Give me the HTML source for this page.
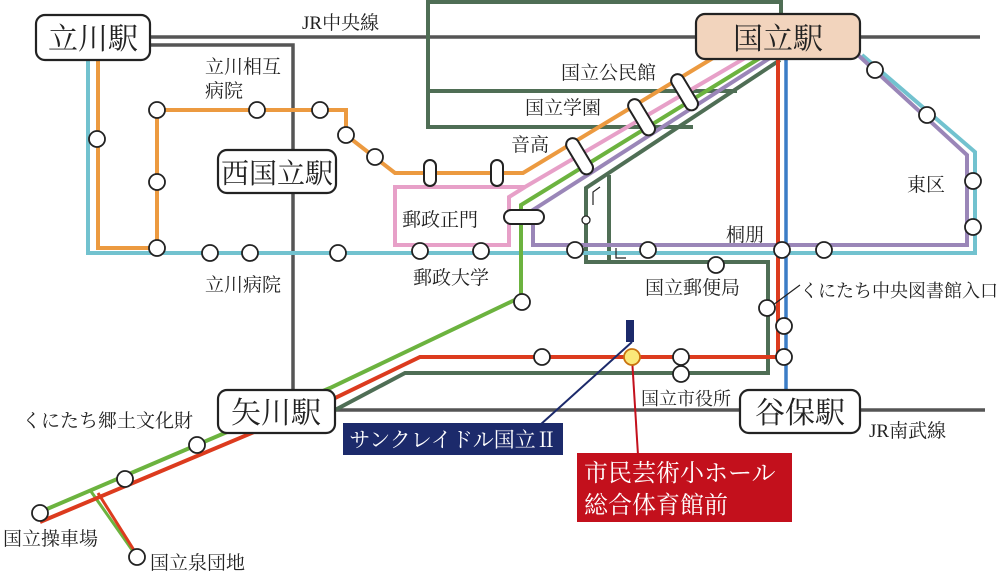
<!DOCTYPE html>
<html><head><meta charset="utf-8"><style>
body{margin:0;background:#fff}
svg{display:block}
text{font-family:"Liberation Serif","Noto Serif CJK SC","Noto Sans CJK JP",serif;fill:#222}
</style></head><body>
<svg width="1000" height="572" viewBox="0 0 1000 572" xmlns="http://www.w3.org/2000/svg">
<g fill="none" stroke-linejoin="miter">
<line x1="150" y1="37" x2="980" y2="37" stroke="#555" stroke-width="3.5"/>
<polyline points="150,45 293,45 293,392" stroke="#555" stroke-width="3.5"/>
<line x1="335" y1="410" x2="985" y2="410" stroke="#555" stroke-width="3.5"/>
<g stroke="#4f6e55" stroke-width="4">
<polyline points="428,0 428,127 693,127"/>
<polyline points="428,2 781,2 781,37"/>
<line x1="428" y1="91" x2="737" y2="91"/>
<polyline points="780,60 586,188 586,262 768,262 768,373 405,373 335,410"/>
<line x1="609" y1="175" x2="609" y2="262"/>
</g>
<polyline points="88,58 88,253 975,253 975,152 862,55" stroke="#72c2cf" stroke-width="4"/>
<polyline points="770,58 533,210 533,245 967,245 967,155 858,55" stroke="#9a86b8" stroke-width="4"/>
<polyline points="745,58 525,187 395,187 395,245 509,245 509,197 525,187" stroke="#e7a0c8" stroke-width="4"/>
<polyline points="98,58 98,248 157,248 157,110 346,110 346,135 395,173 523,173 713,58" stroke="#ec9a40" stroke-width="4"/>
<polyline points="760,58 521,205 521,297 330,388 40,512" stroke="#6cb33f" stroke-width="4"/>
<polyline points="90,490 137,557" stroke="#6cb33f" stroke-width="3"/>
<polyline points="778,58 778,357 420,357 335,398 40,522" stroke="#dc3b1e" stroke-width="4"/>
<polyline points="98,493 137,555" stroke="#dc3b1e" stroke-width="3"/>
<line x1="786" y1="58" x2="786" y2="392" stroke="#3b7dc6" stroke-width="3.5"/>
<polyline points="600,187 593,192 593,205" stroke="#222" stroke-width="1.2"/>
<polyline points="616,248 616,258 626,258" stroke="#222" stroke-width="1.2"/>
<line x1="632" y1="342" x2="540" y2="425" stroke="#1c2a6b" stroke-width="2"/>
<line x1="632" y1="358" x2="638" y2="455" stroke="#c3101c" stroke-width="2"/>
<line x1="773" y1="305" x2="800" y2="285" stroke="#222" stroke-width="1.2"/>
</g>
<g fill="#fff" stroke="#222" stroke-width="2">
<rect x="424" y="160" width="12" height="26" rx="6"/>
<rect x="491" y="160" width="12" height="26" rx="6"/>
<rect x="504" y="210" width="40" height="14" rx="7"/>
<rect x="560" y="150" width="40" height="13" rx="6.5" transform="rotate(59 580 156)"/>
<rect x="622" y="111" width="40" height="13" rx="6.5" transform="rotate(59 642 117)"/>
<rect x="665" y="86" width="40" height="13" rx="6.5" transform="rotate(59 685 92)"/>
</g>
<g fill="#fff" stroke="#222" stroke-width="1.8">
<circle cx="97" cy="139" r="8"/>
<circle cx="157" cy="110" r="8"/><circle cx="257" cy="110" r="8"/><circle cx="320" cy="110" r="8"/>
<circle cx="157" cy="182" r="8"/><circle cx="157" cy="248" r="8"/>
<circle cx="346" cy="135" r="8"/><circle cx="375" cy="157" r="8"/>
<circle cx="210" cy="253" r="8"/><circle cx="250" cy="253" r="8"/><circle cx="338" cy="253" r="8"/>
<circle cx="420" cy="251" r="8"/><circle cx="481" cy="251" r="8"/>
<circle cx="575" cy="250" r="8"/><circle cx="648" cy="250" r="8"/>
<circle cx="782" cy="250" r="8"/><circle cx="824" cy="250" r="8"/>
<circle cx="875" cy="70" r="8"/><circle cx="927" cy="115" r="8"/>
<circle cx="973" cy="181" r="8"/><circle cx="973" cy="227" r="8"/>
<circle cx="716" cy="265" r="8"/>
<circle cx="767" cy="308" r="8"/><circle cx="784" cy="326" r="8"/><circle cx="784" cy="357" r="8"/>
<circle cx="542" cy="357" r="8"/><circle cx="681" cy="357" r="8"/><circle cx="681" cy="374" r="8"/>
<circle cx="522" cy="302" r="8"/>
<circle cx="197" cy="445" r="8"/><circle cx="125" cy="479" r="8"/>
<circle cx="40" cy="513" r="8"/><circle cx="137" cy="557" r="8"/>
<circle cx="586" cy="220" r="4" stroke-width="1.3"/>
</g>
<circle cx="632" cy="357" r="8" fill="#fbe879" stroke="#c9720f" stroke-width="1.8"/>
<rect x="626" y="320" width="8" height="22" fill="#1c2a6b"/>
<g stroke="#222" stroke-width="2.2">
<rect x="36" y="15" width="114" height="45" rx="9" fill="#fff"/>
<rect x="696" y="14" width="164" height="45" rx="9" fill="#f2d4bd"/>
<rect x="218" y="150" width="118" height="43" rx="9" fill="#fff"/>
<rect x="218" y="390" width="117" height="43" rx="9" fill="#fff"/>
<rect x="740" y="390" width="120" height="43" rx="9" fill="#fff"/>
</g>
<g font-size="30">
<text x="93" y="49" text-anchor="middle">立川駅</text>
<text x="778" y="49" text-anchor="middle">国立駅</text>
<text x="277" y="183" text-anchor="middle" font-size="28">西国立駅</text>
<text x="276" y="423" text-anchor="middle">矢川駅</text>
<text x="800" y="423" text-anchor="middle">谷保駅</text>
</g>
<g font-size="19">
<text x="302" y="29">JR中央線</text>
<text x="205" y="73">立川相互</text>
<text x="205" y="97">病院</text>
<text x="205" y="291">立川病院</text>
<text x="413" y="284">郵政大学</text>
<text x="402" y="226">郵政正門</text>
<text x="511" y="151">音高</text>
<text x="525" y="114">国立学園</text>
<text x="561" y="79">国立公民館</text>
<text x="907" y="191">東区</text>
<text x="726" y="241">桐朋</text>
<text x="645" y="294">国立郵便局</text>
<text x="800" y="297" font-size="18">くにたち中央図書館入口</text>
<text x="641" y="405" font-size="18">国立市役所</text>
<text x="869" y="437">JR南武線</text>
<text x="22" y="427">くにたち郷土文化財</text>
<text x="3" y="545">国立操車場</text>
<text x="150" y="569">国立泉団地</text>
</g>
<rect x="343" y="423" width="220" height="32" fill="#1c2a6b"/>
<text x="453" y="447" text-anchor="middle" font-size="21" style="fill:#fff">サンクレイドル国立Ⅱ</text>
<rect x="577" y="453" width="215" height="69" fill="#c3101c"/>
<text x="584" y="481" font-size="24" style="fill:#fff">市民芸術小ホール</text>
<text x="584" y="513" font-size="24" style="fill:#fff">総合体育館前</text>
</svg>
</body></html>
